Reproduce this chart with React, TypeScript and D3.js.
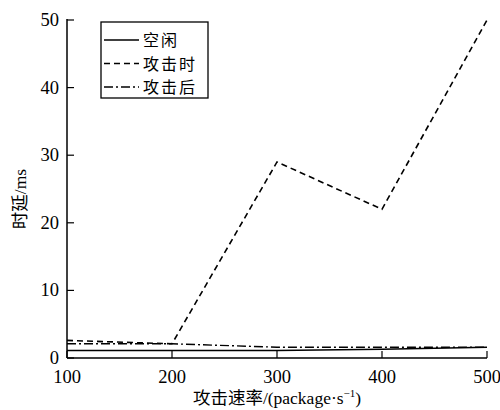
import React from "react";
import * as d3 from "d3";

const rates = [100, 200, 300, 400, 500];
const idle = [1.1, 1.1, 1.1, 1.3, 1.6];
const during = [2.6, 2.1, 29, 22, 50];
const after = [2.1, 2.1, 1.6, 1.6, 1.6];
const xTicks = [100, 200, 300, 400, 500];
const yTicks = [0, 10, 20, 30, 40, 50];
const seriesNames = ["空闲", "攻击时", "攻击后"];
const dashes = ["none", "6,4", "9,3,2,3"];

const W = 500, H = 410;
const m = { left: 67, right: 13, top: 20, bottom: 52 };
const serif = "'Liberation Serif', 'Times New Roman', serif";
const cjk = "'Noto Sans CJK SC', sans-serif";

export default function App() {
  const x = d3.scaleLinear().domain([100, 500]).range([m.left, W - m.right]);
  const y = d3.scaleLinear().domain([0, 50]).range([H - m.bottom, m.top]);
  const line = d3.line<number>().x((_, i) => x(rates[i])).y((d) => y(d));
  const series = [idle, during, after];
  const y0 = y(0);
  return (
    <svg width={W} height={H} style={{ position: "absolute", left: 0, top: 0, background: "#fff" }}>
      {series.map((s, i) => (
        <path key={i} d={line(s) || ""} fill="none" stroke="#000" strokeWidth={i === 1 ? 1.6 : 1.4} strokeDasharray={dashes[i]} />
      ))}
      {/* axes */}
      <line x1={m.left} x2={m.left} y1={y(50) - 1} y2={y0} stroke="#000" strokeWidth={1.5} />
      <line x1={m.left} x2={x(500)} y1={y0} y2={y0} stroke="#000" strokeWidth={1.5} />
      {yTicks.map((t) => (
        <g key={"y" + t}>
          <line x1={m.left} x2={m.left + 7} y1={y(t)} y2={y(t)} stroke="#000" strokeWidth={1.2} />
          <text x={m.left - 8} y={y(t) + 6} textAnchor="end" fontFamily={serif} fontSize={18.5}>{t}</text>
        </g>
      ))}
      {xTicks.map((t) => (
        <g key={"x" + t}>
          <line x1={x(t)} x2={x(t)} y1={y0} y2={y0 - 7} stroke="#000" strokeWidth={1.2} />
          <text x={x(t)} y={y0 + 25} textAnchor="middle" fontFamily={serif} fontSize={18.5}>{t}</text>
        </g>
      ))}
      <text x={(m.left + x(500)) / 2} y={H - 6} textAnchor="middle" fontSize={17.5}>
        <tspan fontFamily={cjk}>攻击速率</tspan>
        <tspan fontFamily={serif}>/(package·s</tspan>
        <tspan fontFamily={serif} fontSize={11} dy={-7}>−1</tspan>
        <tspan fontFamily={serif} dy={7}>)</tspan>
      </text>
      <text transform={`translate(26,${(y(50) + y0) / 2 + 10}) rotate(-90)`} textAnchor="middle" fontSize={17.5}>
        <tspan fontFamily={cjk}>时延</tspan>
        <tspan fontFamily={serif}>/ms</tspan>
      </text>
      {/* legend */}
      <rect x={101} y={22} width={107} height={76} fill="#fff" stroke="#000" strokeWidth={1.3} />
      {seriesNames.map((n, i) => (
        <g key={n}>
          <line x1={104} x2={139} y1={40 + i * 23.5} y2={40 + i * 23.5} stroke="#000" strokeWidth={1.4} strokeDasharray={dashes[i]} />
          <text x={143} y={46 + i * 23.5} fontFamily={cjk} fontSize={16} letterSpacing={2}>{n}</text>
        </g>
      ))}
    </svg>
  );
}
